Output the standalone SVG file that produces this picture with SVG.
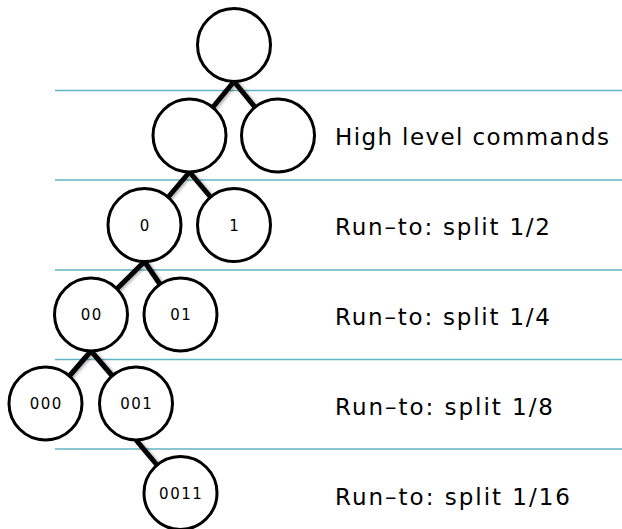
<svg xmlns="http://www.w3.org/2000/svg" width="622" height="529" viewBox="0 0 622 529">
  <style>
    .band { stroke: #62b3c3; stroke-width: 1.5; fill: none; }
    .node { fill: #ffffff; stroke: #000000; stroke-width: 3; }
    .edge { stroke: #000000; stroke-width: 5; fill: none; }
    .nlabel { font-family: "DejaVu Sans", "Liberation Sans", sans-serif; font-size: 15px; letter-spacing: 1.5px; text-anchor: middle; fill: #000; }
    .label { font-family: "DejaVu Sans", "Liberation Sans", sans-serif; font-size: 23px; fill: #000; }
  </style>
  <defs>
    <filter id="shadow" x="-50%" y="-50%" width="200%" height="200%">
      <feDropShadow dx="2" dy="1" stdDeviation="1.5" flood-color="#000" flood-opacity="0.3"/>
    </filter>
  </defs>
  <rect width="622" height="529" fill="#ffffff"/>

  <g id="bands">
    <line class="band" x1="55" y1="90.5" x2="622" y2="90.5"/>
    <line class="band" x1="55" y1="180" x2="622" y2="180"/>
    <line class="band" x1="55" y1="270" x2="622" y2="270"/>
    <line class="band" x1="55" y1="359.5" x2="622" y2="359.5"/>
    <line class="band" x1="55" y1="449" x2="622" y2="449"/>
  </g>

  <g id="connectors" filter="url(#shadow)">
    <line class="edge" x1="234" y1="81.5" x2="189.5" y2="135.5"/>
    <line class="edge" x1="234" y1="81.5" x2="278" y2="135.5"/>
    <line class="edge" x1="189.5" y1="172" x2="144.5" y2="225"/>
    <line class="edge" x1="189.5" y1="172" x2="234" y2="225"/>
    <line class="edge" x1="144.5" y1="261.5" x2="91" y2="314.5"/>
    <line class="edge" x1="144.5" y1="261.5" x2="180.5" y2="314.5"/>
    <line class="edge" x1="91" y1="351" x2="45.5" y2="403.5"/>
    <line class="edge" x1="91" y1="351" x2="136" y2="403.5"/>
    <line class="edge" x1="136" y1="440" x2="180.5" y2="493"/>
  </g>

  <g id="n-root"><circle class="node" cx="234" cy="45" r="36.5"/></g>
  <g id="n-L"><circle class="node" cx="189.5" cy="135.5" r="36.5"/></g>
  <g id="n-R"><circle class="node" cx="278" cy="135.5" r="36.5"/></g>
  <g id="n-0"><circle class="node" cx="144.5" cy="225" r="36.5"/><text class="nlabel" x="145.2" y="230.5">0</text></g>
  <g id="n-1"><circle class="node" cx="234" cy="225" r="36.5"/><text class="nlabel" x="234.7" y="230.5">1</text></g>
  <g id="n-00"><circle class="node" cx="91" cy="314.5" r="36.5"/><text class="nlabel" x="91.7" y="320">00</text></g>
  <g id="n-01"><circle class="node" cx="180.5" cy="314.5" r="36.5"/><text class="nlabel" x="181.2" y="320">01</text></g>
  <g id="n-000"><circle class="node" cx="45.5" cy="403.5" r="36.5"/><text class="nlabel" x="46.2" y="409">000</text></g>
  <g id="n-001"><circle class="node" cx="136" cy="403.5" r="36.5"/><text class="nlabel" x="136.7" y="409">001</text></g>
  <g id="n-0011"><circle class="node" cx="180.5" cy="493" r="36.5"/><text class="nlabel" x="181.2" y="498.5">0011</text></g>

  <g id="labels">
    <text class="label" x="335" y="145" textLength="274" lengthAdjust="spacing">High level commands</text>
    <text class="label" x="335" y="235" textLength="215" lengthAdjust="spacing">Run–to: split 1/2</text>
    <text class="label" x="335" y="325" textLength="215" lengthAdjust="spacing">Run–to: split 1/4</text>
    <text class="label" x="335" y="415" textLength="218" lengthAdjust="spacing">Run–to: split 1/8</text>
    <text class="label" x="335" y="505" textLength="235" lengthAdjust="spacing">Run–to: split 1/16</text>
  </g>
</svg>
